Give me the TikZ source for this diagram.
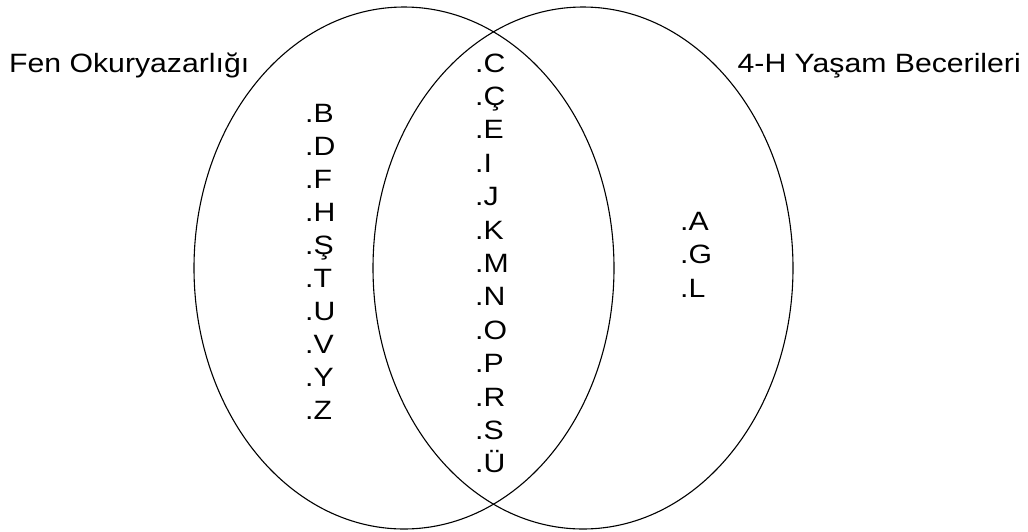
\documentclass[tikz,border=0pt]{standalone}
\usepackage{fontspec}
\setmainfont[FakeStretch=1.14]{Liberation Sans}
\usepackage{tikz}
\usetikzlibrary{shapes.geometric, positioning}

\begin{document}
\begin{tikzpicture}[
  x=1pt, y=-1pt,
  font=\fontsize{26.5}{32}\selectfont,
  venn/.style={draw, ellipse, line width=1.1pt, inner sep=0pt,
               minimum width=420pt, minimum height=522pt},
  title/.style={inner sep=0pt},
  item/.style={anchor=base west, inner sep=0pt}
]
\useasboundingbox (0,0) rectangle (1028,531);
\node[venn] at (404,268) (fen)  {};
\node[venn] at (583,268) (beceri) {};
\node[title, anchor=base west] at (9,72)    (fen-lbl)    {Fen Okuryazarlığı};
\node[title, anchor=base east] at (1021,72) (beceri-lbl) {4-H Yaşam Becerileri};
% only science literacy
\foreach \l [count=\i] in {B,D,F,H,Ş,T,U,V,Y,Z}
  \node[item] at (305,122+33.1*\i-33.1) (f\i) {.\l};
% both
\foreach \l [count=\i] in {C,Ç,E,I,J,K,M,N,O,P,R,S,Ü}
  \node[item] at (475,72+33.4*\i-33.4) (o\i) {.\l};
% only 4-H life skills
\foreach \l [count=\i] in {A,G,L}
  \node[item] at (680,230+33.5*\i-33.5) (b\i) {.\l};
\end{tikzpicture}
\end{document}
